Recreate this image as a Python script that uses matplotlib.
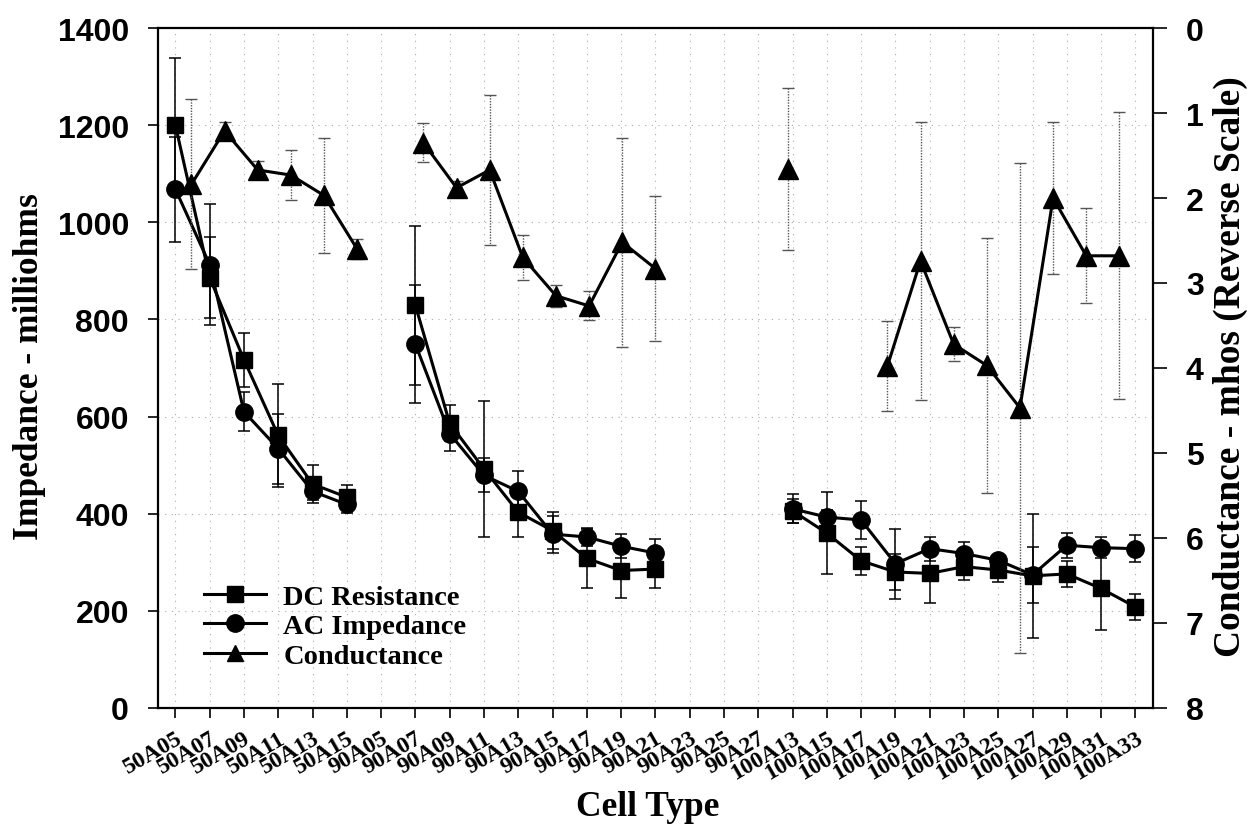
import numpy as np
import matplotlib
matplotlib.use("Agg")
import matplotlib.pyplot as plt
from matplotlib.lines import Line2D

nan = np.nan

# Cell types (one label per tick)
cells = ['50A05', '50A07', '50A09', '50A11', '50A13', '50A15',
         '90A05', '90A07', '90A09', '90A11', '90A13', '90A15', '90A17',
         '90A19', '90A21', '90A23', '90A25', '90A27',
         '100A13', '100A15', '100A17', '100A19', '100A21', '100A23',
         '100A25', '100A27', '100A29', '100A31', '100A33']

# DC resistance / AC impedance in milliohms, with +- error
dc_res = [1200, 886, 717, 561, 461, 434, nan, 829, 586, 492, 403, 365, 308,
          283, 286, nan, nan, nan, 406, 360, 303, 280, 277, 291, 284, 272,
          276, 246, 208]
dc_err = [139, 84, 56, 106, 40, 25, nan, 163, 37, 141, 50, 38, 60,
          57, 38, nan, nan, nan, 25, 84, 29, 37, 60, 27, 25, 128,
          27, 85, 27]
ac_imp = [1068, 913, 610, 534, 446, 419, nan, 749, 565, 479, 446, 358, 352,
          333, 319, nan, nan, nan, 410, 393, 387, 297, 328, 318, 304, 274,
          335, 330, 328]
ac_err = [108, 124, 40, 72, 17, 18, nan, 122, 35, 35, 42, 38, 18,
          25, 28, nan, nan, nan, 30, 15, 40, 72, 25, 23, 10, 57,
          26, 21, 28]

# Conductance in mhos (plotted on reversed secondary scale)
cond = [1.84, 1.21, 1.67, 1.73, 1.97, 2.60, nan, 1.35, 1.88, 1.67, 2.70,
        3.15, 3.27, 2.52, 2.83, nan, nan, nan, 1.66, nan, nan, 3.98,
        2.74, 3.72, 3.97, 4.47, 2.00, 2.68, 2.68]
cond_err = [1.0, 0.1, 0.11, 0.29, 0.68, 0.12, nan, 0.23, 0.08, 0.88, 0.27,
            0.13, 0.17, 1.23, 0.85, nan, nan, nan, 0.95, nan, nan, 0.53,
            1.64, 0.2, 1.5, 2.88, 0.89, 0.56, 1.69]

SANS = 'Liberation Sans'
SERIF = 'Liberation Serif'

fig = plt.figure(figsize=(12.53, 8.29), dpi=100)
rect = [0.1263, 0.1448, 0.7935, 0.8202]
ax = fig.add_axes(rect)

# primary category axis: every cell sits on an odd slot
xpos = np.arange(len(cells)) * 2 + 1

grid_kw = dict(color='#aaaaaa', linestyle=(0, (1, 5)), linewidth=0.8)
ax.set_axisbelow(True)
ax.grid(True, axis='both', **grid_kw)

ax.errorbar(xpos, dc_res, yerr=dc_err, fmt='none', ecolor='black',
            elinewidth=1.1, capsize=4, capthick=1.1, zorder=2)
ax.errorbar(xpos, ac_imp, yerr=ac_err, fmt='none', ecolor='black',
            elinewidth=1.1, capsize=4, capthick=1.1, zorder=2)
ax.plot(xpos, dc_res, color='black', lw=2.2, marker='s', ms=11, zorder=3)
ax.plot(xpos, ac_imp, color='black', lw=2.2, marker='o', ms=12.5, zorder=3)

ax.set_xlim(0, 58)
ax.set_ylim(0, 1400)
ax.set_yticks(np.arange(0, 1401, 200))
ax.set_xticks(xpos)
ax.set_xticklabels(cells, rotation=30, ha='right', va='top',
                   rotation_mode='anchor', fontfamily=SERIF,
                   fontweight='bold', fontsize=17)
ax.tick_params(axis='x', direction='out', length=7, width=1.2, pad=7)
ax.tick_params(axis='y', direction='out', length=7, width=1.2, pad=14,
               labelsize=23)
for t in ax.get_yticklabels():
    t.set_fontfamily(SANS)
    t.set_fontweight('bold')
for sp in ax.spines.values():
    sp.set_linewidth(1.6)

ax.set_ylabel('Impedance - milliohms', fontfamily=SERIF, fontweight='bold',
              fontsize=25.5)
ax.yaxis.set_label_coords(-0.113, 0.503)
ax.set_xlabel('Cell Type', fontfamily=SERIF, fontweight='bold', fontsize=25.5)
ax.xaxis.set_label_coords(0.4926, -0.12)

# secondary axes for conductance (its own category slots, reverse scale)
ax2 = fig.add_axes(rect, frameon=False)
cx = np.arange(1, len(cond) + 1)
eb = ax2.errorbar(cx, cond, yerr=cond_err, fmt='none', ecolor='#555555',
                  elinewidth=1.0, capsize=4, capthick=1.0, zorder=2)
eb[2][0].set_linestyle((0, (1, 1)))
ax2.plot(cx, cond, color='black', lw=2.2, marker='^', ms=14, zorder=3)
ax2.set_xlim(0, 30)
ax2.set_ylim(8, 0)
ax2.set_yticks(np.arange(0, 9, 1))
ax2.xaxis.set_visible(False)
ax2.yaxis.tick_right()
ax2.yaxis.set_label_position('right')
ax2.tick_params(axis='y', direction='out', length=10, width=1.2, pad=14,
                labelsize=23)
for t in ax2.get_yticklabels():
    t.set_fontfamily(SANS)
    t.set_fontweight('bold')
ax2.set_ylabel('Conductance - mhos (Reverse Scale)', fontfamily=SERIF,
               fontweight='bold', fontsize=27, rotation=90)
ax2.yaxis.set_label_coords(1.061, 0.503)

handles = [Line2D([], [], color='black', lw=2.2, marker='s', ms=11),
           Line2D([], [], color='black', lw=2.2, marker='o', ms=12.5),
           Line2D([], [], color='black', lw=2.2, marker='^', ms=12)]
ax2.legend(handles, ['DC Resistance', 'AC Impedance', 'Conductance'],
           loc='upper left', bbox_to_anchor=(0.02, 0.22), frameon=False,
           handlelength=2.2, handletextpad=0.6, labelspacing=0.12,
           prop={'family': SERIF, 'weight': 'bold', 'size': 20.5})

fig.savefig('out.png', dpi=100)
